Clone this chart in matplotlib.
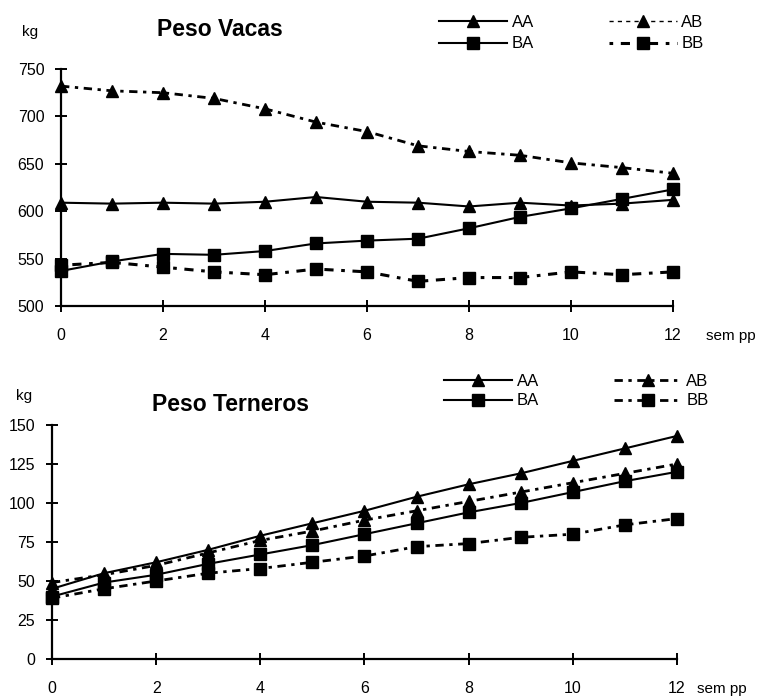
import numpy as np
import matplotlib
matplotlib.use("Agg")
import matplotlib.pyplot as plt
from matplotlib.lines import Line2D

plt.rcParams['font.family'] = ['Liberation Sans', 'DejaVu Sans']

semanas = list(range(13))

# Peso vacas (kg)
vacas_AA = [609, 608, 609, 608, 610, 615, 610, 609, 605, 609, 606, 608, 612]
vacas_AB = [732, 727, 725, 719, 708, 694, 684, 669, 663, 659, 651, 646, 640]
vacas_BA = [537, 547, 555, 554, 558, 566, 569, 571, 582, 594, 603, 613, 623]
vacas_BB = [543, 546, 541, 536, 533, 539, 536, 526, 530, 530, 536, 533, 536]

# Peso terneros (kg)
tern_AA = [45, 55, 62, 70, 79, 87, 95, 104, 112, 119, 127, 135, 143]
tern_AB = [49, 54, 60, 68, 76, 82, 89, 95, 101, 107, 113, 119, 125]
tern_BA = [40, 49, 54, 61, 67, 73, 80, 87, 94, 100, 107, 114, 120]
tern_BB = [39, 45, 50, 55, 58, 62, 66, 72, 74, 78, 80, 86, 90]

fig = plt.figure(figsize=(7.61, 6.98), dpi=100)

def estilo(ax, ymin, ymax, ystep):
    ax.set_xlim(0, 12)
    ax.set_ylim(ymin, ymax)
    ax.set_xticks(range(0, 13, 2))
    ax.set_yticks(np.arange(ymin, ymax + 1, ystep))
    for s in ['top', 'right']:
        ax.spines[s].set_visible(False)
    for s in ['left', 'bottom']:
        ax.spines[s].set_linewidth(1.6)
    ax.tick_params(axis='both', direction='inout', length=9, width=1.4,
                   labelsize=11.5)
    ax.tick_params(axis='x', pad=11)
    ax.tick_params(axis='y', pad=7.5)

def series(ax, aa, ab, ba, bb, ab_ls, bb_ls):
    h = []
    h += ax.plot(semanas, aa, color='black', lw=1.5, marker='^', ms=8, clip_on=False, label='AA')
    h += ax.plot(semanas, ba, color='black', lw=1.5, marker='s', ms=8, clip_on=False, label='BA')
    h += ax.plot(semanas, ab, color='black', lw=ab_ls[1], ls=ab_ls[0], marker='^', ms=8, clip_on=False, label='AB')
    h += ax.plot(semanas, bb, color='black', lw=bb_ls[1], ls=bb_ls[0], marker='s', ms=8, clip_on=False, label='BB')
    return h

def leyenda(h, x, y, ls):
    fig.legend(h, [l.get_label() for l in h], ncol=2, loc='upper left',
               bbox_to_anchor=(x / 761, 1 - y / 698), frameon=False,
               handlelength=4.1, columnspacing=4.5, labelspacing=ls,
               handletextpad=0.25, borderpad=0, borderaxespad=0, fontsize=12)

# ---- Peso Vacas
ax1 = fig.add_axes([0.0802, 0.5616, 0.8042, 0.3395])
h1 = series(ax1, vacas_AA, vacas_AB, vacas_BA, vacas_BB,
            ((0, (3, 2, 1.2, 2)), 2.0), ((0, (1.2, 2.5, 3, 2.5)), 2.2))
estilo(ax1, 500, 750, 50)
fig.text(220 / 761, 1 - 29 / 698, 'Peso Vacas', ha='center', va='center',
         fontsize=16.5, fontweight='bold')
fig.text(30 / 761, 1 - 32 / 698, 'kg', ha='center', va='center', fontsize=11)
fig.text(706 / 761, 1 - 336 / 698, 'sem pp', ha='left', va='center', fontsize=11)
# en la leyenda de arriba AB aparece con trazo fino
h1[2] = Line2D([], [], color='black', lw=1.0, ls=(0, (3, 3)), marker='^', ms=8, label='AB')
leyenda(h1, 439, 15, 0.38)

# ---- Peso Terneros
ax2 = fig.add_axes([0.0683, 0.0559, 0.8213, 0.3352])
h2 = series(ax2, tern_AA, tern_AB, tern_BA, tern_BB,
            ((0, (3, 2, 1.2, 2)), 2.0), ((0, (3, 2, 1.2, 2)), 2.0))
estilo(ax2, 0, 150, 25)
fig.text(231 / 761, 1 - 405 / 698, 'Peso Terneros', ha='center', va='center',
         fontsize=16.5, fontweight='bold')
fig.text(24 / 761, 1 - 396 / 698, 'kg', ha='center', va='center', fontsize=11)
fig.text(697 / 761, 1 - 689 / 698, 'sem pp', ha='left', va='center', fontsize=11)
leyenda(h2, 444, 374, 0.26)

fig.savefig('out.png', dpi=100)
